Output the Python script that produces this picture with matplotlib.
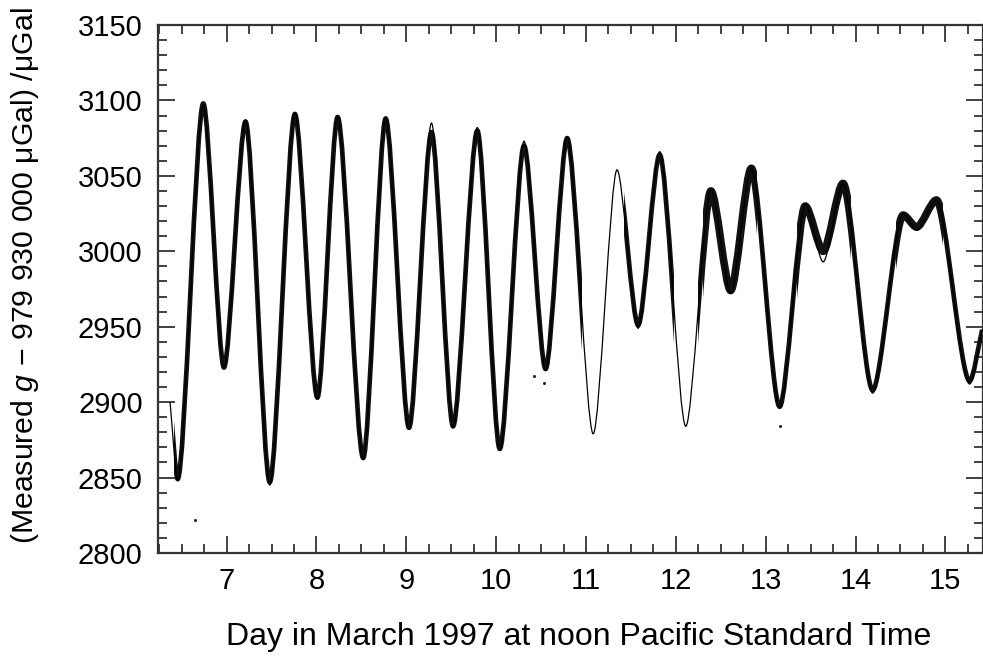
import numpy as np
import matplotlib
matplotlib.use('Agg')
import matplotlib.pyplot as plt
from matplotlib.path import Path
from matplotlib.patches import PathPatch, Rectangle
from matplotlib.ticker import MultipleLocator

plt.rcParams['font.family'] = ['Liberation Sans', 'DejaVu Sans']
plt.rcParams['mathtext.fontset'] = 'custom'
plt.rcParams['mathtext.rm'] = 'Liberation Sans'
plt.rcParams['mathtext.it'] = 'Liberation Sans:italic'

# ---- data (turning points of the tide curve) ----
day_turns = [6.37, 6.455, 6.74, 6.97, 7.21, 7.48, 7.76, 8.01, 8.235, 8.52,
             8.77, 9.03, 9.28, 9.52, 9.79, 10.04, 10.31, 10.55, 10.79, 11.08,
             11.345, 11.58, 11.82, 12.11, 12.39, 12.61, 12.84, 13.155, 13.44,
             13.64, 13.86, 14.19, 14.53, 14.68, 14.90, 15.27, 15.41]
g_model = [2900, 2848, 3097, 2922, 3087, 2845, 3092, 2902, 3090, 2862,
           3089, 2882, 3085, 2883, 3082, 2868, 3073, 2921, 3076, 2879,
           3054, 2949, 3066, 2884, 3041, 2972, 3055, 2896, 3031,
           2993, 3045, 2906, 3025, 3014, 3034, 2912, 2948]
g_measured = [2900, 2849, 3098, 2923, 3086, 2847, 3091, 2903, 3089, 2863,
              3088, 2883, 3079, 2884, 3080, 2869, 3070, 2922, 3075, 2879,
              3054, 2951, 3064, 2884, 3040, 2974, 3055, 2897, 3030,
              3000, 3045, 2908, 3024, 3016, 3034, 2914, 2948]
# spans (days) where measurements exist
meas_start = [6.41, 11.42, 12.25]
meas_end = [10.95, 11.98, 15.41]
# spans with a noisier (wider) measurement band
noisy_start = [12.30, 13.35, 14.45]
noisy_end = [12.90, 13.95, 14.97]
# isolated stray measurements
stray_day = [6.65, 10.42, 10.53, 13.16]
stray_g = [2822, 2917, 2913, 2884]

x_ticks = [7, 8, 9, 10, 11, 12, 13, 14, 15]
y_ticks = [2800, 2850, 2900, 2950, 3000, 3050, 3100, 3150]


def smooth_path(ts, gs, k=0.28):
    verts = [(ts[0], gs[0])]
    codes = [Path.MOVETO]
    n = len(ts)
    for i in range(n - 1):
        x0, y0, x1, y1 = ts[i], gs[i], ts[i + 1], gs[i + 1]
        dx = x1 - x0
        c1y = y0 if i > 0 else y0 + (y1 - y0) * k
        c2y = y1 if i + 1 < n - 1 else y1 - (y1 - y0) * k
        verts += [(x0 + k * dx, c1y), (x1 - k * dx, c2y), (x1, y1)]
        codes += [Path.CURVE4] * 3
    return Path(verts, codes)


def clipped_band(ax, path, a, b, lw):
    pp = PathPatch(path, fill=False, lw=lw, ec='#111111',
                   capstyle='butt', joinstyle='round', zorder=2)
    ax.add_patch(pp)
    pp.set_clip_path(Rectangle((a, 2700), b - a, 600, transform=ax.transData))


fig = plt.figure(figsize=(9.83, 6.57), dpi=100)
ax = fig.add_axes([158 / 983, 1 - 553 / 657, (982.5 - 158) / 983, 528 / 657])

# measured data (thick band), clipped to measured spans
meas_path = smooth_path(day_turns, g_measured)
for a, b in zip(meas_start, meas_end):
    clipped_band(ax, meas_path, a, b, 3.4)
for a, b in zip(noisy_start, noisy_end):
    clipped_band(ax, meas_path, a, b, 5.5)

# model (thin line)
ax.add_patch(PathPatch(smooth_path(day_turns, g_model), fill=False,
                       lw=0.9, ec='black', zorder=3))

ax.plot(stray_day, stray_g, 'o', ms=2.2, color='#222222', mec='none', zorder=3)

ax.set_xlim(6.236, 15.413)
ax.set_ylim(2800, 3150)
ax.set_xticks(x_ticks)
ax.set_yticks(y_ticks)
ax.xaxis.set_minor_locator(MultipleLocator(0.25))
ax.yaxis.set_minor_locator(MultipleLocator(10))

for s in ax.spines.values():
    s.set_linewidth(1.6)
    s.set_color('#333333')
ax.tick_params(which='both', direction='in', top=True, right=True,
               color='#333333', width=1.3)
ax.tick_params(which='major', length=12, labelsize=21, pad=10)
ax.tick_params(axis='y', which='major', pad=11)
ax.tick_params(which='minor', length=6.5)

fig.text(579 / 983, 1 - 637 / 657, 'Day in March 1997 at noon Pacific Standard Time',
         ha='center', va='center', fontsize=23)
fig.text(25 / 983, 1 - 276 / 657,
         r'(Measured $\mathit{g}$ − 979 930 000 μGal) /μGal',
         ha='center', va='center', rotation=90, fontsize=21.8)

fig.savefig('out.png', dpi=100)
